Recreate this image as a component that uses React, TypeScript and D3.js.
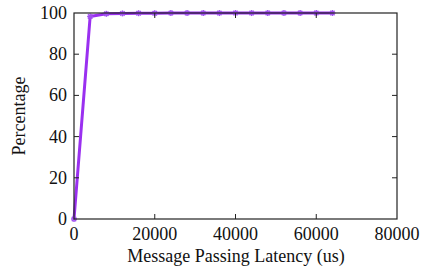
import React from "react";
import * as d3 from "d3";

const latency = [0, 4000, 8000, 12000, 16000, 20000, 24000, 28000, 32000, 36000, 40000, 44000, 48000, 52000, 56000, 60000, 64000];
const percentage = [0, 98.3, 99.6, 99.8, 99.9, 99.9, 99.95, 99.95, 99.97, 99.97, 99.98, 99.98, 99.99, 99.99, 100, 100, 100];
const xTicks = [0, 20000, 40000, 60000, 80000];
const yTicks = [0, 20, 40, 60, 80, 100];

const W = 425, H = 268;
const L = 74, R = 397, T = 13, B = 219;

export default function App() {
  const x = d3.scaleLinear().domain([0, 80000]).range([L, R]);
  const y = d3.scaleLinear().domain([0, 100]).range([B, T]);
  const pts = latency.map((v, i) => [v, percentage[i]] as [number, number]);
  const line = d3.line<[number, number]>().x(d => x(d[0])).y(d => y(d[1]))(pts) || "";
  const font = "'Liberation Serif', 'Times New Roman', serif";
  const fs = 18;
  const tl = 5;
  return (
    <svg width={W} height={H} style={{ position: "absolute", left: 0, top: 0, background: "#fff" }}>
      <g fontFamily={font} fontSize={fs} fill="#111">
        {xTicks.map(t => (
          <text key={"xt" + t} x={x(t)} y={240} textAnchor="middle">{t}</text>
        ))}
        {yTicks.map(t => (
          <text key={"yt" + t} x={67} y={y(t) + 6} textAnchor="end">{t}</text>
        ))}
        <text x={236} y={262} textAnchor="middle">Message Passing Latency (us)</text>
        <text transform={`translate(25,${116}) rotate(-90)`} textAnchor="middle">Percentage</text>
      </g>
      <path d={line} fill="none" stroke="#9a30f0" strokeWidth={3} strokeLinejoin="round" />
      {pts.map((p, i) => (
        <g key={"m" + i} transform={`translate(${x(p[0])},${y(p[1])})`} stroke="#a050f0" strokeWidth={1.5}>
          <line x1={-3} x2={3} y1={0} y2={0} />
          <line x1={0} x2={0} y1={-3} y2={3} />
          <line x1={-2.2} x2={2.2} y1={-2.2} y2={2.2} />
          <line x1={-2.2} x2={2.2} y1={2.2} y2={-2.2} />
        </g>
      ))}
      <g stroke="#222" strokeWidth={1}>
        {xTicks.slice(1, -1).map(t => (
          <g key={"xk" + t}>
            <line x1={x(t)} x2={x(t)} y1={B} y2={B - tl} />
            <line x1={x(t)} x2={x(t)} y1={T} y2={T + tl} />
          </g>
        ))}
        {yTicks.slice(1, -1).map(t => (
          <g key={"yk" + t}>
            <line x1={L} x2={L + tl} y1={y(t)} y2={y(t)} />
            <line x1={R} x2={R - tl} y1={y(t)} y2={y(t)} />
          </g>
        ))}
      </g>
      <rect x={L} y={T} width={R - L} height={B - T} fill="none" stroke="#222" strokeWidth={1.2} />
    </svg>
  );
}
